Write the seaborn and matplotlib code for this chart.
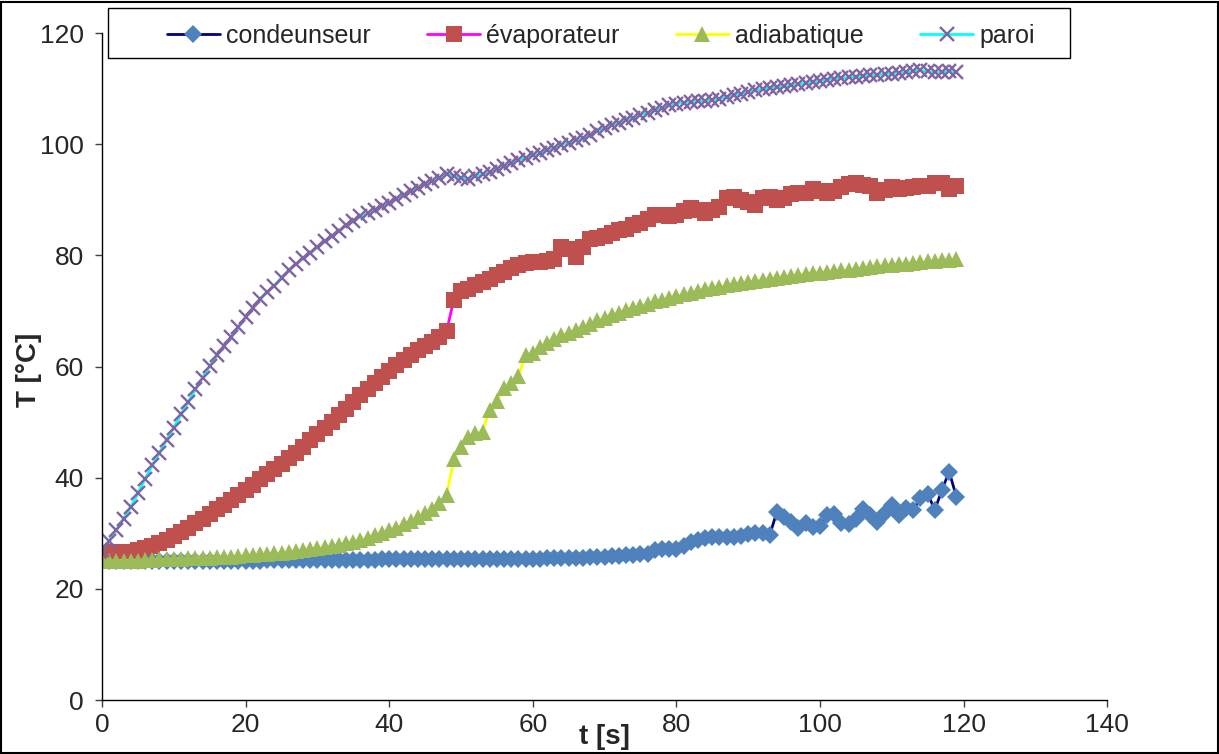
import numpy as np
import pandas as pd
import matplotlib
matplotlib.use("Agg")
import matplotlib.pyplot as plt
from matplotlib.patches import Rectangle
import seaborn as sns

# temps d'acquisition [s]
t = np.arange(0, 120)

condenseur = [
    25.0, 25.0, 25.0, 25.0, 25.0, 25.0, 25.0, 25.0, 25.0, 25.0,
    25.0, 25.0, 25.1, 25.1, 25.1, 25.1, 25.1, 25.1, 25.1, 25.1,
    25.1, 25.1, 25.1, 25.2, 25.2, 25.2, 25.2, 25.2, 25.2, 25.2,
    25.2, 25.2, 25.2, 25.2, 25.2, 25.2, 25.2, 25.2, 25.2, 25.3,
    25.3, 25.3, 25.3, 25.3, 25.3, 25.3, 25.3, 25.3, 25.3, 25.3,
    25.3, 25.3, 25.3, 25.3, 25.3, 25.4, 25.4, 25.4, 25.4, 25.4,
    25.4, 25.4, 25.5, 25.5, 25.5, 25.5, 25.5, 25.6, 25.7, 25.8,
    25.8, 25.9, 25.9, 26.0, 26.1, 26.2, 26.3, 27.0, 27.1, 27.1,
    27.2, 27.7, 28.5, 28.8, 29.1, 29.3, 29.3, 29.3, 29.4, 29.5,
    29.8, 30.0, 30.1, 29.7, 33.8, 33.0, 32.0, 31.0, 31.8, 31.1,
    31.3, 33.2, 33.4, 31.8, 31.6, 32.6, 34.4, 33.3, 32.0, 33.6,
    35.1, 33.3, 34.5, 34.2, 36.3, 37.1, 34.2, 37.8, 41.1, 36.6,
]

evaporateur = [
    26.5, 26.5, 26.6, 26.6, 26.7, 27.0, 27.3, 27.7, 28.2, 28.8,
    29.5, 30.2, 31.0, 31.8, 32.6, 33.4, 34.3, 35.1, 36.0, 36.9,
    37.8, 38.7, 39.7, 40.6, 41.6, 42.5, 43.5, 44.5, 45.6, 46.7,
    47.8, 48.9, 50.0, 51.2, 52.4, 53.6, 54.8, 56.0, 57.1, 58.2,
    59.2, 60.2, 61.1, 62.0, 62.9, 63.7, 64.5, 65.3, 66.4, 72.0,
    73.6, 74.0, 74.6, 75.2, 75.8, 76.4, 77.0, 77.8, 78.3, 78.6,
    78.8, 78.8, 79.0, 79.3, 81.5, 81.2, 79.7, 81.5, 83.0, 83.2,
    83.5, 84.0, 84.5, 84.8, 85.5, 85.8, 86.5, 87.2, 87.2, 87.0,
    87.3, 88.0, 88.5, 88.2, 87.6, 88.2, 88.7, 90.3, 90.5, 90.0,
    89.6, 89.1, 90.3, 90.5, 90.0, 90.3, 91.0, 91.2, 91.2, 92.0,
    91.5, 91.2, 91.6, 92.3, 92.8, 93.0, 92.7, 92.5, 91.3, 91.8,
    92.3, 92.0, 92.2, 92.3, 92.4, 92.4, 93.0, 93.0, 92.0, 92.5,
]

adiabatique = [
    25.0, 25.0, 25.0, 25.1, 25.1, 25.1, 25.2, 25.2, 25.3, 25.3,
    25.4, 25.4, 25.5, 25.5, 25.6, 25.6, 25.7, 25.8, 25.8, 25.9,
    26.0, 26.1, 26.2, 26.3, 26.4, 26.5, 26.6, 26.8, 26.9, 27.1,
    27.3, 27.5, 27.7, 27.9, 28.2, 28.5, 28.8, 29.2, 29.6, 30.0,
    30.5, 31.0, 31.6, 32.2, 32.9, 33.6, 34.4, 35.5, 36.9, 43.3,
    45.5, 47.3, 48.0, 48.3, 52.2, 53.8, 56.1, 57.0, 58.3, 62.1,
    62.5, 63.5, 64.3, 65.0, 65.6, 66.1, 66.6, 67.1, 67.7, 68.3,
    68.8, 69.3, 69.7, 70.1, 70.5, 70.9, 71.3, 71.7, 72.0, 72.3,
    72.7, 73.0, 73.3, 73.6, 73.9, 74.1, 74.3, 74.6, 74.8, 75.0,
    75.2, 75.4, 75.6, 75.8, 76.0, 76.1, 76.3, 76.5, 76.7, 76.8,
    76.9, 77.0, 77.1, 77.3, 77.4, 77.5, 77.7, 77.9, 78.1, 78.2,
    78.3, 78.4, 78.5, 78.6, 78.8, 78.9, 79.0, 79.1, 79.2, 79.3,
]

paroi = [
    27.0, 28.6, 30.6, 32.6, 34.7, 37.2, 39.8, 42.2, 44.5, 46.8,
    49.0, 51.4, 53.6, 55.9, 58.0, 60.1, 62.0, 63.7, 65.3, 67.1,
    68.9, 70.6, 72.1, 73.4, 74.5, 76.0, 77.3, 78.4, 79.5, 80.5,
    81.5, 82.5, 83.5, 84.4, 85.4, 86.2, 87.0, 87.6, 88.2, 88.9,
    89.5, 90.2, 90.9, 91.5, 92.2, 92.8, 93.4, 94.0, 94.6, 94.3,
    93.9, 93.7, 94.2, 94.6, 95.0, 95.6, 96.1, 96.6, 97.1, 97.6,
    98.0, 98.4, 98.9, 99.4, 99.9, 100.3, 100.7, 101.1, 101.7, 102.4,
    102.9, 103.4, 103.9, 104.3, 104.8, 105.3, 105.7, 106.1, 106.5, 107.0,
    107.3, 107.5, 107.6, 107.7, 107.8, 108.0, 108.2, 108.5, 108.8, 109.1,
    109.4, 109.7, 109.9, 110.1, 110.3, 110.4, 110.6, 110.8, 111.0, 111.2,
    111.4, 111.6, 111.8, 111.9, 112.0, 112.1, 112.3, 112.4, 112.5, 112.6,
    112.7, 112.8, 112.9, 113.1, 113.3, 113.1, 112.9, 113.0, 113.1, 113.0,
]

x_ticks = [0, 20, 40, 60, 80, 100, 120, 140]
y_ticks = [0, 20, 40, 60, 80, 100, 120]

sns.set_theme(style="white")
plt.rcParams["font.family"] = ["Liberation Sans", "DejaVu Sans"]

fig = plt.figure(figsize=(12.19, 7.54), dpi=100)
ax = fig.add_axes([0.0837, 0.0716, 0.8245, 0.8846])

# nom, valeurs, couleur de ligne, marqueur, couleur de marqueur, taille
series = [
    ("condeunseur", condenseur, "#000080", "D", "#4F81BD", 9.5),
    ("évaporateur", evaporateur, "#FF00FF", "s", "#C0504D", 11),
    ("adiabatique", adiabatique, "#FFFF00", "^", "#9BBB59", 11.5),
    ("paroi", paroi, "#00FFFF", "x", "#8064A2", 10),
]

for name, vals, lc, mk, mc, ms in series:
    df = pd.DataFrame({"t": t, "T": vals})
    kw = dict(marker=mk, markersize=ms, markerfacecolor=mc, markeredgecolor=mc)
    if mk == "x":
        kw["markeredgewidth"] = 1.7
    else:
        kw["markeredgewidth"] = 0
    sns.lineplot(data=df, x="t", y="T", ax=ax, color=lc, linewidth=2,
                 label=name, **kw)

ax.set_xlim(0, 140)
ax.set_ylim(0, 120)
ax.set_xticks(x_ticks)
ax.set_yticks(y_ticks)
ax.tick_params(axis="both", direction="out", length=5, width=1,
               color="#404040", labelsize=19, left=True, bottom=True)
ax.tick_params(axis="y", pad=8)
ax.tick_params(axis="x", pad=4)

for side in ["top", "right"]:
    ax.spines[side].set_visible(False)
for side in ["left", "bottom"]:
    ax.spines[side].set_color("black")
    ax.spines[side].set_linewidth(1)

ax.set_xlabel("t [s]", fontsize=20, fontweight="bold")
ax.set_ylabel("T [°C]", fontsize=20, fontweight="bold")
ax.xaxis.set_label_coords(0.5, -0.036)
ax.yaxis.set_label_coords(-0.060, 0.495)

# légende sans cadre, puis cadre dessiné à part (comme dans Excel)
leg = ax.legend(loc="center", bbox_to_anchor=(0.0647, 0.976, 0.8633, 0.04),
                mode="expand", ncol=4, numpoints=1, fontsize=18,
                frameon=False, handlelength=2.1, handletextpad=0.25,
                borderpad=0, borderaxespad=0)
leg.set_zorder(11)
box = Rectangle((0.006, 0.9625), 0.957, 0.0745, transform=ax.transAxes,
                facecolor="white", edgecolor="black", linewidth=1,
                clip_on=False, zorder=10)
ax.add_patch(box)

# cadre autour de la figure
fig.patches.append(Rectangle((0.001, 0.001), 0.998, 0.997, transform=fig.transFigure,
                             fill=False, edgecolor="black", linewidth=1.5))

fig.savefig("out.png", dpi=100)
